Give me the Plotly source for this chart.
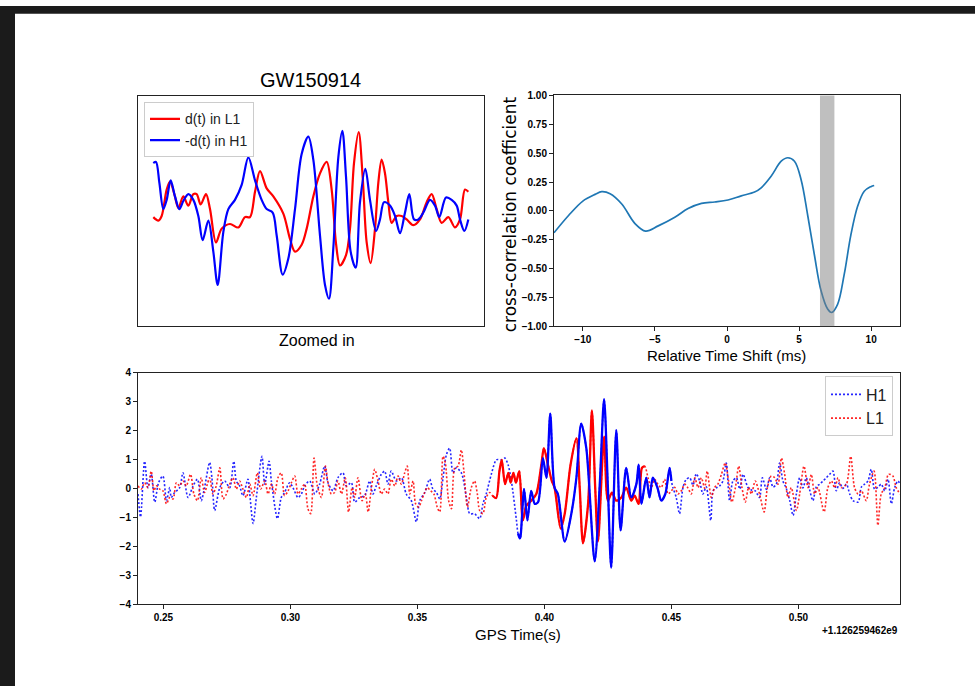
import plotly.graph_objects as go

# ---------------- data ----------------
GPS_OFFSET = "+1.126259462e9"

# Zoomed-in strain (arbitrary units), d(t) in L1 and -d(t) in H1
zoom_l1_x = [4.43, 5.88, 6.84, 8.29, 9.25, 10.50, 11.66, 13.10, 14.55, 15.99, 16.96, 18.11, 19.65, 20.81,
             22.54, 24.18, 26.59, 29.00, 30.92, 32.37, 33.82, 35.26, 37.19, 39.11, 42.00, 43.93, 45.38,
             47.30, 48.75, 50.67, 52.60, 54.53, 55.97, 57.23, 58.38, 60.12, 61.27, 62.43, 63.78, 64.93,
             66.09, 67.24, 68.50, 69.46, 70.42, 71.39, 72.35, 73.31, 74.76, 76.20, 77.65, 79.58, 81.50,
             83.43, 84.87, 86.32, 87.76, 89.69, 91.62, 93.06, 94.51, 95.47]
zoom_l1_y = [-0.05, -0.08, -0.04, 0.19, 0.26, 0.15, 0.03, 0.13, 0.05, 0.15, 0.15, 0.06, 0.15, 0.02,
             -0.27, -0.15, -0.11, -0.14, -0.05, -0.05, 0.17, 0.35, 0.20, 0.13, -0.02, -0.24, -0.35,
             -0.29, -0.15, 0.13, 0.33, 0.43, 0.19, -0.28, -0.47, -0.38, -0.15, 0.42, 0.69, 0.30,
             -0.27, -0.45, -0.15, 0.25, 0.45, 0.33, 0.08, -0.10, -0.04, -0.04, -0.07, -0.12, -0.07,
             0.08, 0.15, 0.02, -0.10, -0.05, -0.14, -0.07, 0.19, 0.17]

zoom_h1_x = [4.43, 5.20, 6.17, 7.32, 8.29, 9.44, 10.69, 11.95, 13.10, 14.55, 15.99, 17.44, 18.69, 20.33,
             21.77, 23.03, 24.66, 26.11, 28.03, 29.96, 31.89, 33.82, 35.74, 37.19, 38.92, 40.08, 41.81,
             43.45, 45.38, 47.30, 49.23, 50.67, 52.60, 54.05, 55.20, 56.45, 57.90, 59.06, 60.12, 61.46,
             62.91, 64.16, 65.70, 67.05, 68.79, 69.94, 71.10, 72.83, 74.28, 75.72, 77.17, 78.42, 79.77,
             81.02, 82.47, 84.39, 85.84, 87.09, 89.02, 90.66, 92.10, 93.06, 94.32, 95.47]
zoom_h1_y = [0.42, 0.43, 0.25, 0.02, 0.10, 0.27, 0.13, 0.02, 0.09, 0.15, 0.10, -0.04, -0.25, -0.08,
             -0.35, -0.64, -0.18, 0.02, 0.10, 0.23, 0.47, 0.27, 0.10, 0.02, -0.01, -0.21, -0.55,
             -0.41, 0.02, 0.50, 0.65, 0.45, -0.21, -0.64, -0.76, -0.32, 0.47, 0.70, 0.30, -0.35,
             -0.49, 0.08, 0.37, 0.10, -0.17, -0.07, 0.08, 0.05, -0.04, -0.19, -0.01, 0.15, -0.07,
             -0.07, -0.01, 0.10, 0.05, -0.05, 0.12, 0.10, 0.05, -0.07, -0.17, -0.07]

# Cross-correlation between the two detectors vs. relative time shift
shift_ms = [-12.0, -10.99, -10.0, -9.15, -8.69, -8.11, -7.30, -6.38, -5.65, -4.77, -3.62, -2.70, -1.77,
            -0.85, 0.07, 0.99, 1.91, 2.37, 3.06, 3.76, 4.22, 4.68, 5.14, 5.60, 6.06, 6.52, 6.98, 7.26,
            7.67, 8.13, 8.59, 9.06, 9.52, 9.98, 10.21]
xcorr = [-0.19, -0.04, 0.085, 0.143, 0.166, 0.149, 0.06, -0.11, -0.175, -0.13, -0.055, 0.02, 0.065,
         0.077, 0.094, 0.13, 0.163, 0.20, 0.30, 0.43, 0.46, 0.43, 0.27, -0.04, -0.38, -0.69, -0.85, -0.88,
         -0.81, -0.55, -0.21, 0.04, 0.17, 0.21, 0.22]
peak_window = [6.45, 7.45]

# Whitened strain, seconds after the GPS offset
h1_pre_t = [0.2400, 0.2410, 0.2426, 0.2439, 0.2452, 0.2466, 0.2481, 0.2498, 0.2512, 0.2525, 0.2531, 0.2544,
            0.2564, 0.2577, 0.2597, 0.2617, 0.2634, 0.2649, 0.2662, 0.2682, 0.2691, 0.2702, 0.2722, 0.2741,
            0.2761, 0.2777, 0.2787, 0.2800, 0.2813, 0.2833, 0.2840, 0.2853, 0.2866, 0.2888, 0.2899, 0.2916,
            0.2925, 0.2949, 0.2964, 0.2977, 0.2997, 0.3010, 0.3030, 0.3043, 0.3056, 0.3076, 0.3096, 0.3115,
            0.3135, 0.3148, 0.3168, 0.3187, 0.3207, 0.3220, 0.3240, 0.3253, 0.3273, 0.3292, 0.3312, 0.3325,
            0.3338, 0.3358, 0.3371, 0.3384, 0.3397, 0.3417, 0.3437, 0.3456, 0.3476, 0.3496, 0.3509, 0.3529,
            0.3548, 0.3561, 0.3575, 0.3588, 0.3601, 0.3614, 0.3627, 0.3640, 0.3653, 0.3673, 0.3693, 0.3706,
            0.3725, 0.3745, 0.3758, 0.3771, 0.3791, 0.3811, 0.3830, 0.3844, 0.3857, 0.3870, 0.3890]
h1_pre_v = [-0.19, -0.98, 0.94, 0.03, 0.49, -0.47, 0.20, 0.43, -0.42, 0.03, -0.31, -0.14,
            0.03, 0.54, -0.31, 0.09, 0.32, -0.42, 0.03, 0.90, 0.37, -0.76, 0.03, 0.26,
            0.03, 0.94, 0.26, 0.09, -0.25, 0.32, -0.19, -1.21, -0.31, 1.11, 0.15, 0.94,
            0.26, -1.04, -0.31, -0.14, 0.20, 0.03, -0.31, -0.19, 0.09, 0.26, -0.19, 0.15,
            0.77, 0.20, -0.08, 0.37, 0.54, 0.09, 0.20, -0.47, -0.31, -0.25, 0.26, -0.19,
            0.09, 0.49, 0.60, 0.15, 0.60, 0.26, 0.37, -0.19, -0.42, -1.15, -0.42, -0.14,
            0.32, -0.02, -0.14, -0.36, 0.37, 1.16, 1.39, 0.54, 0.71, 0.54, -0.31, -0.87,
            -0.87, -1.04, -0.53, -0.19, 0.49, 0.99, 0.99, 1.05, 0.82, 0.26, -1.10]

h1_sig_t = [0.3896, 0.3903, 0.3906, 0.3920, 0.3933, 0.3948, 0.3962, 0.3975, 0.3994, 0.4008, 0.4023, 0.4040,
            0.4053, 0.4080, 0.4106, 0.4126, 0.4145, 0.4165, 0.4198, 0.4218, 0.4235, 0.4250, 0.4263, 0.4283,
            0.4300, 0.4322, 0.4342, 0.4362, 0.4371, 0.4382, 0.4401, 0.4414, 0.4427, 0.4445, 0.4460, 0.4476,
            0.4493, 0.4500]
h1_sig_v = [-1.55, -1.72, -1.66, -0.02, -1.10, -0.08, -0.53, -0.47, 1.05, 0.37, 2.58, 0.03,
            -0.19, -1.83, -0.87, 0.37, 2.24, 1.39, -2.51, 0.15, 3.08, 0.03, -2.73, 2.01,
            -1.44, 0.71, -0.31, 0.15, 0.82, -0.53, 0.37, -0.31, 0.37, 0.03, -0.42, -0.19,
            0.71, 0.26]

h1_post_t = [0.4506, 0.4519, 0.4532, 0.4546, 0.4559, 0.4572, 0.4585, 0.4598, 0.4611, 0.4624, 0.4637, 0.4655,
             0.4664, 0.4677, 0.4690, 0.4703, 0.4716, 0.4729, 0.4742, 0.4756, 0.4769, 0.4782, 0.4801, 0.4815,
             0.4830, 0.4847, 0.4858, 0.4874, 0.4887, 0.4900, 0.4913, 0.4926, 0.4939, 0.4952, 0.4966, 0.4979,
             0.4992, 0.5005, 0.5018, 0.5031, 0.5044, 0.5057, 0.5071, 0.5084, 0.5097, 0.5110, 0.5123, 0.5136,
             0.5149, 0.5162, 0.5175, 0.5189, 0.5202, 0.5215, 0.5235, 0.5248, 0.5261, 0.5274, 0.5287, 0.5300,
             0.5313, 0.5326, 0.5340, 0.5353, 0.5366, 0.5379, 0.5392, 0.5400]
h1_post_v = [0.03, -0.31, -0.87, 0.05, 0.32, 0.37, 0.12, 0.51, 0.26, -0.19, 0.06, -1.10,
             -0.08, 0.02, 0.09, 0.26, 0.88, -0.42, 0.26, 0.37, -0.02, 0.49, 0.04, -0.05,
             -0.08, -0.31, 0.37, -0.03, 0.37, 0.05, 0.15, 0.88, 0.26, 0.01, -0.42, -0.93,
             -0.19, 0.37, 0.02, 0.37, -0.04, -0.42, 0.06, 0.15, 0.26, 0.37, 0.49, 0.60,
             -0.08, 0.20, 0.00, 0.15, -0.19, -0.42, -0.47, 0.05, 0.15, 0.26, 0.66, -0.02,
             0.04, 0.15, -0.08, 0.32, -0.53, 0.03, 0.26, 0.15]

l1_pre_t = [0.2400, 0.2413, 0.2426, 0.2439, 0.2452, 0.2463, 0.2472, 0.2485, 0.2498, 0.2512, 0.2525, 0.2538,
            0.2551, 0.2564, 0.2577, 0.2590, 0.2607, 0.2620, 0.2634, 0.2649, 0.2662, 0.2673, 0.2682, 0.2695,
            0.2708, 0.2722, 0.2735, 0.2748, 0.2761, 0.2774, 0.2787, 0.2800, 0.2813, 0.2827, 0.2840, 0.2853,
            0.2870, 0.2883, 0.2899, 0.2912, 0.2925, 0.2938, 0.2951, 0.2964, 0.2977, 0.2991, 0.3004, 0.3017,
            0.3030, 0.3043, 0.3056, 0.3069, 0.3080, 0.3093, 0.3106, 0.3122, 0.3138, 0.3148, 0.3161, 0.3174,
            0.3187, 0.3201, 0.3216, 0.3229, 0.3243, 0.3253, 0.3266, 0.3282, 0.3295, 0.3306, 0.3319, 0.3332,
            0.3345, 0.3358, 0.3371, 0.3384, 0.3397, 0.3411, 0.3424, 0.3437, 0.3450, 0.3460, 0.3470, 0.3483,
            0.3493, 0.3505, 0.3516, 0.3526, 0.3539, 0.3552, 0.3565, 0.3578, 0.3588, 0.3601, 0.3610, 0.3623,
            0.3634, 0.3647, 0.3660, 0.3673, 0.3683, 0.3697, 0.3712, 0.3725, 0.3736, 0.3745, 0.3758, 0.3771,
            0.3785]
l1_pre_v = [0.09, -0.02, 0.20, 0.03, 0.60, -0.08, 0.09, -0.02, -0.08, -0.53, -0.31, -0.36,
            0.20, 0.09, 0.26, 0.09, 0.49, -0.19, -0.42, 0.37, -0.14, 0.15, 0.37, -0.19,
            0.09, 0.71, -0.36, -0.19, 0.15, 0.37, -0.02, 0.26, -0.02, -0.31, 0.15, -0.25,
            0.54, -0.02, 0.26, -0.19, 0.15, -0.19, 0.37, 0.54, -0.25, -0.08, 0.20, 0.43,
            -0.19, -0.02, 0.15, -0.70, -0.87, 1.05, 0.09, -0.31, 0.77, 0.20, -0.19, -0.14,
            0.26, -0.19, 0.37, -0.81, 0.03, -0.31, 0.37, -0.42, -0.19, -0.81, 0.03, 0.66,
            0.26, -0.19, -0.02, -0.19, 0.32, 0.09, 0.43, 0.15, 0.54, 0.77, -0.19, 0.26,
            -0.53, -0.64, -0.42, -0.19, 0.03, -0.08, -0.19, -0.64, -0.81, 1.11, 0.88, -0.42,
            -0.70, 0.71, 0.77, 1.33, 0.60, -0.64, 0.03, 0.26, -0.19, -0.76, -0.87, -0.31,
            -0.14]

l1_sig_t = [0.3796, 0.3810, 0.3823, 0.3832, 0.3845, 0.3858, 0.3867, 0.3878, 0.3888, 0.3901, 0.3915, 0.3929,
            0.3948, 0.3968, 0.3988, 0.3998, 0.4014, 0.4029, 0.4040, 0.4064, 0.4080, 0.4103, 0.4126, 0.4139,
            0.4152, 0.4172, 0.4187, 0.4200, 0.4211, 0.4235, 0.4250, 0.4266, 0.4283, 0.4303, 0.4322, 0.4342,
            0.4355, 0.4371, 0.4384, 0.4395]
l1_sig_v = [-0.25, -0.33, 0.60, 0.99, 0.15, 0.54, 0.20, 0.54, 0.20, 0.60, -1.10, -0.59,
            -0.42, -0.19, 0.82, 1.39, 0.82, 0.26, 0.03, -1.38, -0.87, 0.82, 1.73, 0.03,
            -1.89, -0.53, 2.69, 0.03, -1.83, 1.79, -0.42, -0.14, -0.42, -0.31, 0.03, -0.42,
            -0.25, -0.53, 0.71, 0.77]

l1_post_t = [0.4408, 0.4421, 0.4434, 0.4447, 0.4460, 0.4473, 0.4487, 0.4500, 0.4513, 0.4526, 0.4539, 0.4552,
             0.4565, 0.4578, 0.4592, 0.4605, 0.4618, 0.4631, 0.4641, 0.4657, 0.4670, 0.4683, 0.4697, 0.4712,
             0.4725, 0.4738, 0.4752, 0.4765, 0.4778, 0.4791, 0.4804, 0.4815, 0.4830, 0.4847, 0.4865, 0.4878,
             0.4893, 0.4907, 0.4920, 0.4933, 0.4946, 0.4959, 0.4972, 0.4992, 0.5005, 0.5022, 0.5038, 0.5051,
             0.5064, 0.5077, 0.5101, 0.5116, 0.5130, 0.5143, 0.5156, 0.5169, 0.5189, 0.5206, 0.5221, 0.5235,
             0.5248, 0.5267, 0.5280, 0.5298, 0.5313, 0.5326, 0.5340, 0.5355, 0.5372, 0.5385, 0.5400]
l1_post_v = [0.37, 0.03, 0.32, 0.15, 0.03, 0.32, -0.19, -0.08, 0.04, -0.19, -0.08, 0.15,
             0.02, -0.19, 0.37, 0.03, 0.37, 0.01, 0.60, -0.31, 0.03, 0.15, 0.49, 0.88,
             0.26, -0.47, 0.03, 0.77, 0.02, -0.47, 0.04, -0.19, 0.26, -0.19, -0.81, 0.03,
             0.43, 0.37, 0.15, 1.05, 0.49, -0.31, 0.03, -0.76, -0.19, 0.77, 0.03, 0.49,
             -0.19, 0.03, -0.81, 0.03, 0.26, 0.02, 0.37, 0.03, 0.15, 1.11, 0.03, -0.19,
             -0.08, -0.42, 0.15, 0.60, -1.27, -0.19, 0.03, 0.49, 0.43, 0.03, -0.19]

time_ticks = [0.25, 0.30, 0.35, 0.40, 0.45, 0.50]
strain_ticks = [-4, -3, -2, -1, 0, 1, 2, 3, 4]
shift_ticks = [-10, -5, 0, 5, 10]
xcorr_ticks = [-1.0, -0.75, -0.5, -0.25, 0.0, 0.25, 0.5, 0.75, 1.0]

# ---------------- figure ----------------
W, H = 975, 692
FONT = "Liberation Sans, Arial, sans-serif"
RED, BLUE, CC = "#ff0000", "#0000ff", "#1f77b4"
DOTS = "2px,2px"


def px_x(p):
    return p / W


def px_y(p):
    return 1 - p / H


fig = go.Figure()

# zoomed-in panel
fig.add_trace(go.Scatter(x=zoom_l1_x, y=zoom_l1_y, mode="lines", name="d(t) in L1",
                         line=dict(color=RED, width=2.2, shape="spline", smoothing=0.9),
                         xaxis="x", yaxis="y", legend="legend"))
fig.add_trace(go.Scatter(x=zoom_h1_x, y=zoom_h1_y, mode="lines", name="-d(t) in H1",
                         line=dict(color=BLUE, width=2.2, shape="spline", smoothing=0.9),
                         xaxis="x", yaxis="y", legend="legend"))

# cross-correlation panel
fig.add_trace(go.Scatter(x=shift_ms, y=xcorr, mode="lines", showlegend=False,
                         line=dict(color=CC, width=1.7, shape="spline", smoothing=1.0),
                         xaxis="x2", yaxis="y2"))

# full time series: dotted data, solid signal segment on top
h1_all_t = h1_pre_t + h1_sig_t + h1_post_t
h1_all_v = h1_pre_v + h1_sig_v + h1_post_v
l1_all_t = l1_pre_t + l1_sig_t + l1_post_t
l1_all_v = l1_pre_v + l1_sig_v + l1_post_v

fig.add_trace(go.Scatter(x=h1_all_t, y=h1_all_v, mode="lines", name="H1", opacity=0.85,
                         line=dict(color=BLUE, width=1.6, dash=DOTS, shape="spline", smoothing=0.8),
                         xaxis="x3", yaxis="y3", legend="legend2"))
fig.add_trace(go.Scatter(x=l1_all_t, y=l1_all_v, mode="lines", name="L1", opacity=0.85,
                         line=dict(color=RED, width=1.6, dash=DOTS, shape="spline", smoothing=0.8),
                         xaxis="x3", yaxis="y3", legend="legend2"))
fig.add_trace(go.Scatter(x=l1_sig_t, y=l1_sig_v, mode="lines", showlegend=False,
                         line=dict(color=RED, width=2.3, shape="spline", smoothing=0.8),
                         xaxis="x3", yaxis="y3"))
fig.add_trace(go.Scatter(x=h1_sig_t, y=h1_sig_v, mode="lines", showlegend=False,
                         line=dict(color=BLUE, width=2.3, shape="spline", smoothing=0.8),
                         xaxis="x3", yaxis="y3"))

frame = dict(showline=True, linecolor="#222", linewidth=1, mirror=True, showgrid=False,
             zeroline=False)
tickstyle = dict(ticks="outside", ticklen=4, tickwidth=1, tickcolor="#222",
                 tickfont=dict(family=FONT, size=10, color="#000", weight="bold"))

fig.update_layout(
    width=W, height=H, margin=dict(l=0, r=0, t=0, b=0),
    paper_bgcolor="white", plot_bgcolor="white",
    font=dict(family=FONT, color="#000"),
    xaxis=dict(domain=[px_x(138), px_x(484)], range=[0, 100], anchor="y",
               showticklabels=False, ticks="", **frame),
    yaxis=dict(domain=[px_y(326), px_y(92)], range=[-1.0, 1.0], anchor="x",
               showticklabels=False, ticks="", **frame),
    xaxis2=dict(domain=[px_x(554), px_x(900)], range=[-12, 12], anchor="y2",
                tickvals=shift_ticks, **frame, **tickstyle),
    yaxis2=dict(domain=[px_y(326), px_y(91)], range=[-1, 1], anchor="x2",
                tickvals=xcorr_ticks, tickformat=".2f", **frame, **tickstyle),
    xaxis3=dict(domain=[px_x(138), px_x(900)], range=[0.24, 0.54], anchor="y3",
                tickvals=time_ticks, tickformat=".2f", **frame, **tickstyle),
    yaxis3=dict(domain=[px_y(609), px_y(373)], range=[-4, 4], anchor="x3",
                tickvals=strain_ticks, **frame, **tickstyle),
    legend=dict(x=px_x(144), y=px_y(98), xanchor="left", yanchor="top",
                bgcolor="rgba(255,255,255,0.85)", bordercolor="#cccccc", borderwidth=1,
                font=dict(family=FONT, size=14, color="#222"), itemwidth=30,
                tracegroupgap=0),
    legend2=dict(x=px_x(893), y=px_y(377), xanchor="right", yanchor="top",
                 bgcolor="rgba(255,255,255,0.85)", bordercolor="#cccccc", borderwidth=1,
                 font=dict(family=FONT, size=16, color="#222"), itemwidth=30),
    showlegend=True,
)

# dark frame around the page
fig.add_shape(type="rect", xref="paper", yref="paper", x0=0, x1=1, y0=px_y(8), y1=1,
              fillcolor="#1b1b1b", line=dict(width=0), layer="below")
fig.add_shape(type="rect", xref="paper", yref="paper", x0=0, x1=px_x(15), y0=0, y1=1,
              fillcolor="#1b1b1b", line=dict(width=0), layer="below")

# highlighted window around the correlation minimum
fig.add_shape(type="rect", xref="x2", yref="y2 domain", x0=peak_window[0], x1=peak_window[1],
              y0=0, y1=1, fillcolor="rgba(128,128,128,0.5)", line=dict(width=0), layer="above")

texts = [
    dict(text="GW150914", x=px_x(310), y=px_y(75), size=20),
    dict(text="Zoomed in", x=px_x(317), y=px_y(340), size=16),
    dict(text="Relative Time Shift (ms)", x=px_x(726), y=px_y(356), size=15),
    dict(text="GPS Time(s)", x=px_x(518), y=px_y(640), size=15),
]
for t in texts:
    fig.add_annotation(text=t["text"], x=t["x"], y=t["y"], xref="paper", yref="paper",
                       showarrow=False, xanchor="center", yanchor="middle",
                       font=dict(family=FONT, size=t["size"], color="#000"))

fig.add_annotation(text="cross-correlation coefficient", x=px_x(510), y=px_y(212),
                   xref="paper", yref="paper", showarrow=False, textangle=-90,
                   xanchor="center", yanchor="middle",
                   font=dict(family="DejaVu Sans, sans-serif", size=17, color="#000"))
fig.add_annotation(text=GPS_OFFSET, x=px_x(900), y=px_y(636), xref="paper", yref="paper",
                   showarrow=False, xanchor="right", yanchor="middle",
                   font=dict(family=FONT, size=10, color="#000", weight="bold"))

fig.write_html("out.html")
